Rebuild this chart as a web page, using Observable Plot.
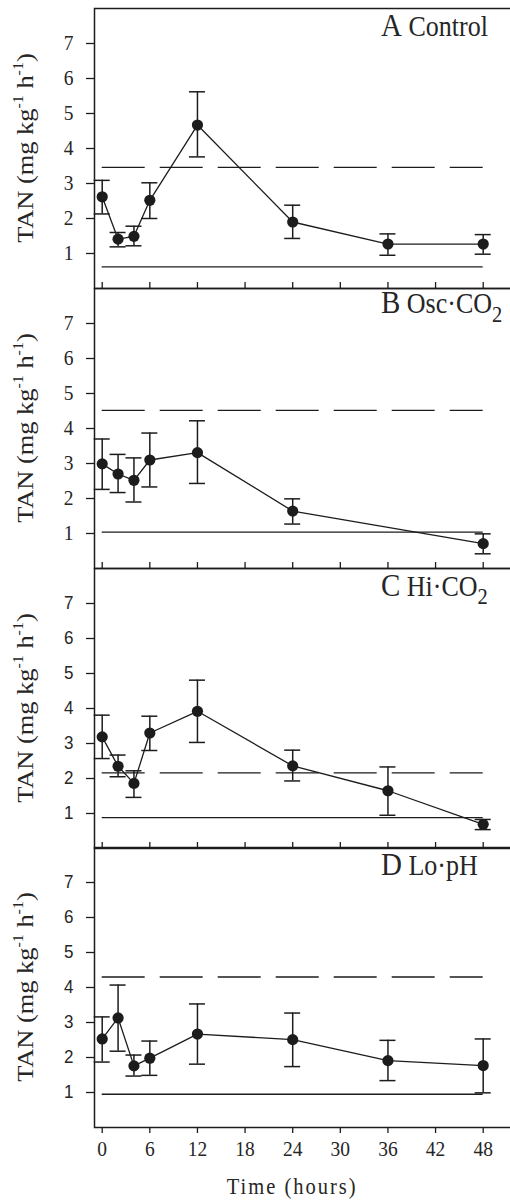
<!DOCTYPE html>
<html><head><meta charset="utf-8">
<script src="https://cdn.jsdelivr.net/npm/d3@7"></script>
<script src="https://cdn.jsdelivr.net/npm/@observablehq/plot@0.6"></script>
<style>
html,body{margin:0;padding:0;background:#fff;overflow:hidden;}
#chart{position:relative;width:510px;height:1202px;overflow:hidden;background:#fff;}
#chart svg{position:absolute;left:0;}
</style></head><body><div id="chart"></div>
<script>
// ---- data ----
const xTicks = [0, 6, 12, 18, 24, 30, 36, 42, 48];
const yTicks = [1, 2, 3, 4, 5, 6, 7];

const timesA = [0, 2, 4, 6, 12, 24, 36, 48];
const meanA  = [2.62, 1.41, 1.49, 2.52, 4.67, 1.90, 1.27, 1.27];
const hiA    = [3.09, 1.60, 1.78, 3.02, 5.62, 2.38, 1.56, 1.54];
const loA    = [2.13, 1.19, 1.22, 2.00, 3.76, 1.43, 0.95, 0.98];
const upperA = 3.46, lowerA = 0.62;

const timesB = [0, 2, 4, 6, 12, 24, 48];
const meanB  = [2.99, 2.70, 2.52, 3.10, 3.31, 1.64, 0.71];
const hiB    = [3.70, 3.26, 3.16, 3.87, 4.22, 1.99, 0.99];
const loB    = [2.26, 2.17, 1.90, 2.33, 2.43, 1.27, 0.42];
const upperB = 4.52, lowerB = 1.04;

const timesC = [0, 2, 4, 6, 12, 24, 36, 48];
const meanC  = [3.19, 2.35, 1.86, 3.30, 3.92, 2.36, 1.65, 0.69];
const hiC    = [3.81, 2.67, 2.22, 3.78, 4.81, 2.81, 2.33, 0.83];
const loC    = [2.57, 2.05, 1.46, 2.80, 3.03, 1.93, 0.95, 0.54];
const upperC = 2.16, lowerC = 0.88;

const timesD = [0, 2, 4, 6, 12, 24, 36, 48];
const meanD  = [2.53, 3.13, 1.76, 1.98, 2.67, 2.51, 1.91, 1.77];
const hiD    = [3.16, 4.07, 2.07, 2.47, 3.53, 3.27, 2.49, 2.53];
const loD    = [1.87, 2.18, 1.47, 1.49, 1.81, 1.74, 1.34, 0.99];
const upperD = 4.30, lowerD = 0.95;

const panelKeys  = ["A", "B", "C", "D"];
const panelNames = ["Control", "Osc·CO", "Hi·CO", "Lo·pH"];
const panelSubs  = ["", "2", "2", ""];
const xLabel = "Time (hours)";

// ---- layout / style ----
const SERIF = "Liberation Serif, Times New Roman, serif";
const SANS = "Liberation Sans, Arial, sans-serif";
const INK = "#1c1c1c";
const TXT = "#262626";
const SY = 1.1;
const panelTops = [8, 287.6, 567.6, 847.4];
const titleDy = [28, 25, 27.5, 27.5];
const PH = 280, PAD = 4;

const panels = [
  {times: timesA, mean: meanA, hi: hiA, lo: loA, upper: upperA, lower: lowerA, font: SERIF, fs: 19.5},
  {times: timesB, mean: meanB, hi: hiB, lo: loB, upper: upperB, lower: lowerB, font: SERIF, fs: 19.5},
  {times: timesC, mean: meanC, hi: hiC, lo: loC, upper: upperC, lower: lowerC, font: SANS, fs: 17},
  {times: timesD, mean: meanD, hi: hiD, lo: loD, upper: upperD, lower: lowerD, font: SANS, fs: 17}
];

const isNum = v => v != null && v !== "" && isFinite(+v);
function stretchTexts(svg, sy, family) {
  svg.querySelectorAll("text").forEach(t => {
    let x = t.getAttribute("x"), y = t.getAttribute("y");
    let tx = 0, ty = 0;
    if (isNum(x)) { tx = +x; t.removeAttribute("x"); }
    if (isNum(y)) { ty = +y; t.removeAttribute("y"); }
    const tr = t.getAttribute("transform") || "";
    t.setAttribute("transform", `${tr} translate(${tx},${ty}) scale(1,${sy})`);
  });
}

const chart = document.getElementById("chart");

panels.forEach((p, k) => {
  const last = k === panels.length - 1;
  const mb = last ? 80 : PAD;
  const rows = p.times.map((t, i) => ({t, mean: p.mean[i], lo: p.lo[i], hi: p.hi[i]}));
  const t0 = d3.min(p.times), t1 = d3.max(p.times);
  const plot = Plot.plot({
    width: 514, height: PAD + PH + mb,
    marginTop: PAD, marginBottom: mb, marginLeft: 94, marginRight: 0,
    style: {background: "transparent", overflow: "visible", maxWidth: "none", color: TXT, fontFamily: p.font, fontSize: p.fs + "px"},
    x: {domain: [0, 48], range: [101.7, 482.7], axis: null},
    y: {domain: [0, 8], axis: null},
    marks: [
      Plot.ruleY([p.upper], {x1: () => t0, x2: () => t1, stroke: INK, strokeWidth: 1.3, strokeDasharray: "43,15"}),
      Plot.ruleY([p.lower], {x1: () => t0, x2: () => t1, stroke: INK, strokeWidth: 1.3}),
      Plot.ruleX(rows, {x: "t", y1: "lo", y2: "hi", stroke: INK, strokeWidth: 1.5}),
      Plot.ruleY(rows, {y: "hi", x1: "t", x2: "t", insetLeft: -8, insetRight: -8, stroke: INK, strokeWidth: 1.5}),
      Plot.ruleY(rows, {y: "lo", x1: "t", x2: "t", insetLeft: -8, insetRight: -8, stroke: INK, strokeWidth: 1.5}),
      Plot.line(rows, {x: "t", y: "mean", stroke: INK, strokeWidth: 1.3}),
      Plot.dot(rows, {x: "t", y: "mean", r: 5.6, fill: INK, stroke: "none"}),
      Plot.frame({stroke: INK, strokeWidth: 1.5}),
      Plot.axisY(yTicks, {tickSize: 8, tickPadding: 13, label: null, strokeWidth: 1.3, stroke: INK, fill: TXT, fontFamily: p.font, fontSize: p.fs}),
      last
        ? Plot.axisX(xTicks, {tickSize: 6, tickPadding: 7, label: null, strokeWidth: 1.3, stroke: INK, fill: TXT, fontFamily: SERIF, fontSize: 19.5})
        : Plot.axisX(xTicks, {tickSize: -6, tickFormat: () => "", label: null, strokeWidth: 1.3, stroke: INK})
    ]
  });
  const svgTop = panelTops[k] - PAD;
  plot.style.top = svgTop + "px";
  chart.appendChild(plot);
  stretchTexts(plot, SY);

  const svg = d3.select(plot);
  // panel title
  const title = svg.append("text")
    .attr("transform", `translate(381,${PAD + titleDy[k]}) scale(1,${SY})`)
    .attr("text-anchor", "start")
    .attr("font-family", SERIF).attr("fill", TXT);
  title.append("tspan").attr("font-size", 29).text(panelKeys[k]);
  title.append("tspan").attr("font-size", 26).text(" " + panelNames[k]);
  if (panelSubs[k]) title.append("tspan").attr("font-size", 20.5).attr("dy", 8).text(panelSubs[k]);

  // y-axis label
  const ys = plot.scale("y");
  const yc = ys.apply(d3.mean(ys.domain));
  const yl = svg.append("text")
    .attr("transform", `translate(33,${yc}) rotate(-90) scale(${SY},1)`)
    .attr("text-anchor", "middle").attr("font-family", SERIF).attr("font-size", 24).attr("fill", TXT);
  yl.append("tspan").text("TAN (mg kg");
  yl.append("tspan").attr("font-size", 14.5).attr("dy", -10).text("-1");
  yl.append("tspan").attr("dy", 10).text(" h");
  yl.append("tspan").attr("font-size", 14.5).attr("dy", -10).text("-1");
  yl.append("tspan").attr("dy", 10).text(")");

  if (last) {
    const xs = plot.scale("x");
    const xc = xs.apply(d3.mean(xs.domain));
    svg.append("text")
      .attr("transform", `translate(${xc},${1194 - svgTop}) scale(1,${SY})`)
      .attr("text-anchor", "middle").attr("font-family", SERIF).attr("font-size", 20.5)
      .attr("letter-spacing", 2).attr("fill", TXT).text(xLabel);
  }
});
</script></body></html>
